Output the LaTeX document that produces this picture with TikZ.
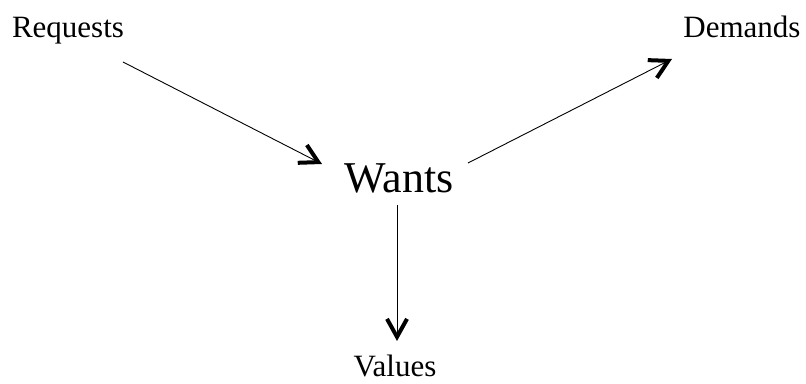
\documentclass[tikz,border=0pt]{standalone}
\usepackage{fontspec}
\setmainfont{Liberation Serif}
\usetikzlibrary{arrows.meta}
\begin{document}
\begin{tikzpicture}[x=1pt,y=1pt,
  lbl/.style={anchor=base, inner sep=0pt, font=\fontsize{31}{34}\selectfont},
  big/.style={anchor=base, inner sep=0pt, font=\fontsize{44}{48}\selectfont},
  conn/.style={line width=0.9pt, -{Straight Barb[length=18pt,width=20pt,line width=4pt]}}]
\useasboundingbox (0,0) rectangle (806,383);
\node[lbl] (req) at (68,345) {Requests};
\node[lbl] (dem) at (742,345) {Demands};
\node[big] (wants) at (399,190) {Wants};
\node[lbl] (val) at (395,7) {Values};
\coordinate (r1) at (123,321);
\coordinate (r2) at (322,219);
\coordinate (d1) at (468,220);
\coordinate (d2) at (672,324);
\coordinate (v1) at (397,178);
\coordinate (v2) at (397,42);
\draw[conn] (r1) -- (r2);
\draw[conn] (d1) -- (d2);
\draw[conn] (v1) -- (v2);
\end{tikzpicture}
\end{document}
